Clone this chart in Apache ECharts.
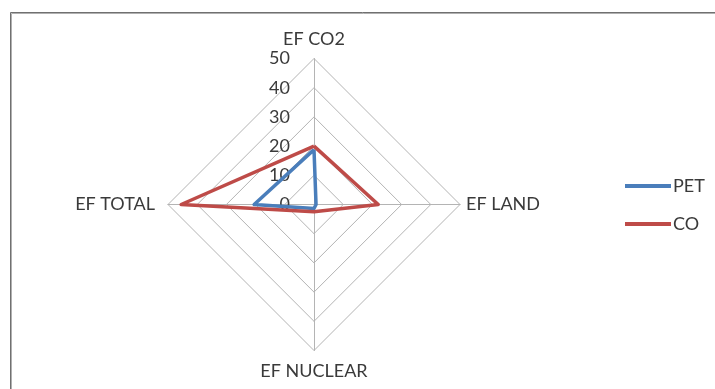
<!DOCTYPE html>
<html>
<head>
<meta charset="utf-8">
<script src="https://cdn.jsdelivr.net/npm/echarts@6/dist/echarts.min.js"></script>
<style>
  html, body { margin: 0; padding: 0; background: #fff; }
  #chart { width: 715px; height: 389px; }
</style>
</head>
<body>
<div id="chart"></div>
<script>
// Indicators listed in drawing order (ECharts places them counter-clockwise from the top)
const indicatorNames = ['EF CO2', 'EF TOTAL', 'EF NUCLEAR', 'EF LAND'];
const axisMax = 50;
const tickLabels = ['0', '10', '20', '30', '40', '50'];

const seriesNames = ['PET', 'CO'];
const petValues = [18.8, 20.5, 1.4, 0.7];
const coValues = [20, 45.5, 2.5, 22];
const seriesColors = ['#4a7ebb', '#be4b48'];

const font = 'Lato, "Open Sans", sans-serif';
const textColor = '#3a3a3a';

// distance between each axis end and its name
const nameGaps = [10, 13, 12, 6];

const chart = echarts.init(document.getElementById('chart'), null, { renderer: 'canvas' });

const indicator = indicatorNames.map((name, i) => {
  const ind = { name: name, min: 0, max: axisMax, nameGap: nameGaps[i] };
  if (i === 0) {
    ind.axisLabel = {
      show: true,
      formatter: (v) => tickLabels[Math.round(v / (axisMax / (tickLabels.length - 1)))]
    };
  }
  return ind;
});

chart.setOption({
  animation: false,
  backgroundColor: '#fff',
  legend: {
    orient: 'vertical',
    left: 620,
    top: 172,
    itemWidth: 46,
    itemHeight: 4,
    itemGap: 20,
    icon: 'rect',
    textStyle: { fontFamily: font, fontSize: 18, color: textColor, padding: [0, 0, 0, -3] },
    data: seriesNames
  },
  radar: {
    center: [314, 204.5],
    radius: 146,
    startAngle: 90,
    shape: 'polygon',
    splitNumber: 5,
    indicator: indicator,
    axisName: { color: textColor, fontFamily: font, fontSize: 18 },
    axisLine: { lineStyle: { color: '#b4b4b4', width: 1 } },
    splitLine: { lineStyle: { color: '#b4b4b4', width: 1 } },
    splitArea: { show: false },
    axisTick: { show: false },
    axisLabel: {
      show: false,
      color: textColor,
      fontFamily: font,
      fontSize: 18,
      margin: 24
    }
  },
  series: [{
    type: 'radar',
    symbol: 'none',
    data: [
      { name: seriesNames[0], value: petValues, lineStyle: { color: seriesColors[0], width: 3.5 }, itemStyle: { color: seriesColors[0] } },
      { name: seriesNames[1], value: coValues, lineStyle: { color: seriesColors[1], width: 3.5 }, itemStyle: { color: seriesColors[1] } }
    ]
  }],
  graphic: [
    { type: 'polyline', silent: true, shape: { points: [[10.5, 389], [10.5, 12.5], [715, 12.5]] }, style: { stroke: '#707070', lineWidth: 1, fill: null } },
    { type: 'polyline', silent: true, shape: { points: [[11.5, 389], [11.5, 13.5], [715, 13.5]] }, style: { stroke: '#b0b0b0', lineWidth: 1, fill: null } }
  ]
});
</script>
</body>
</html>
